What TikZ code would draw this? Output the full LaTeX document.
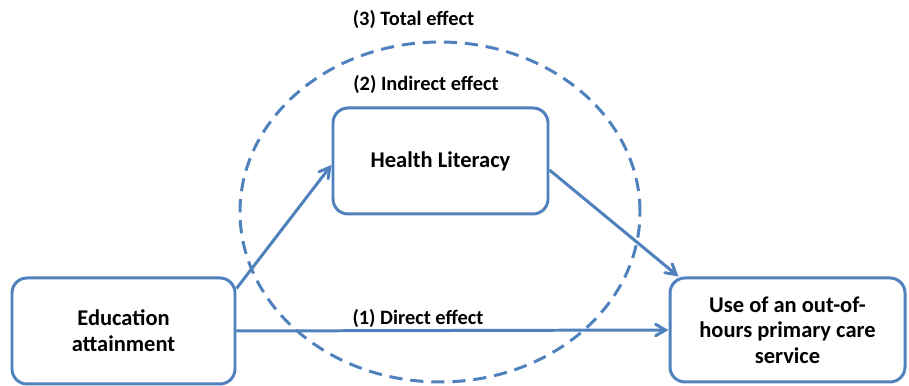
\documentclass[tikz,border=0pt]{standalone}
\usepackage{fontspec}
\setmainfont{Carlito}
\usepackage{tikz}
\usetikzlibrary{arrows, positioning}
\definecolor{pathblue}{HTML}{4F81BD}

\begin{document}
\begin{tikzpicture}[>=angle 60, font=\bfseries\fontsize{11.6}{14}\selectfont,
  varbox/.style={draw=pathblue, line width=1.7pt, rounded corners=0.3cm, align=center, fill=white,
    font=\bfseries\fontsize{12.8}{14.6}\selectfont},
  effect/.style={draw=pathblue, line width=1.7pt}]
\useasboundingbox (0,0) rectangle (18.18,7.72);
\draw[pathblue, line width=1.7pt, dash pattern=on 7.5pt off 4.5pt] (8.8,3.48) ellipse (4.0cm and 3.4cm);
\node[varbox, minimum width=4.46cm, minimum height=2.12cm](edu) at (2.47,1.10) {Education\\attainment};
\node[varbox, minimum width=4.3cm, minimum height=2.12cm](hl) at (8.81,4.5) {Health Literacy};
\node[varbox, minimum width=4.7cm, minimum height=2.08cm](use) at (15.75,1.12) {Use of an out-of-\\hours primary care\\service};
%
\node(total) at (8.27,7.34) {(3) Total effect};
\node(indirect) at (8.52,6.04) {(2) Indirect effect};
\draw[effect, ->]([yshift=-0.24cm]edu.north east) -- ([yshift=-0.08cm]hl.west);
\draw[effect, ->]([yshift=-0.18cm]hl.east) -- ([xshift=0.2cm]use.north west);
\draw[effect, ->](edu.east) -- (use.west) node[pos=0.42, above, inner sep=1pt]{(1) Direct effect};
\end{tikzpicture}
\end{document}
